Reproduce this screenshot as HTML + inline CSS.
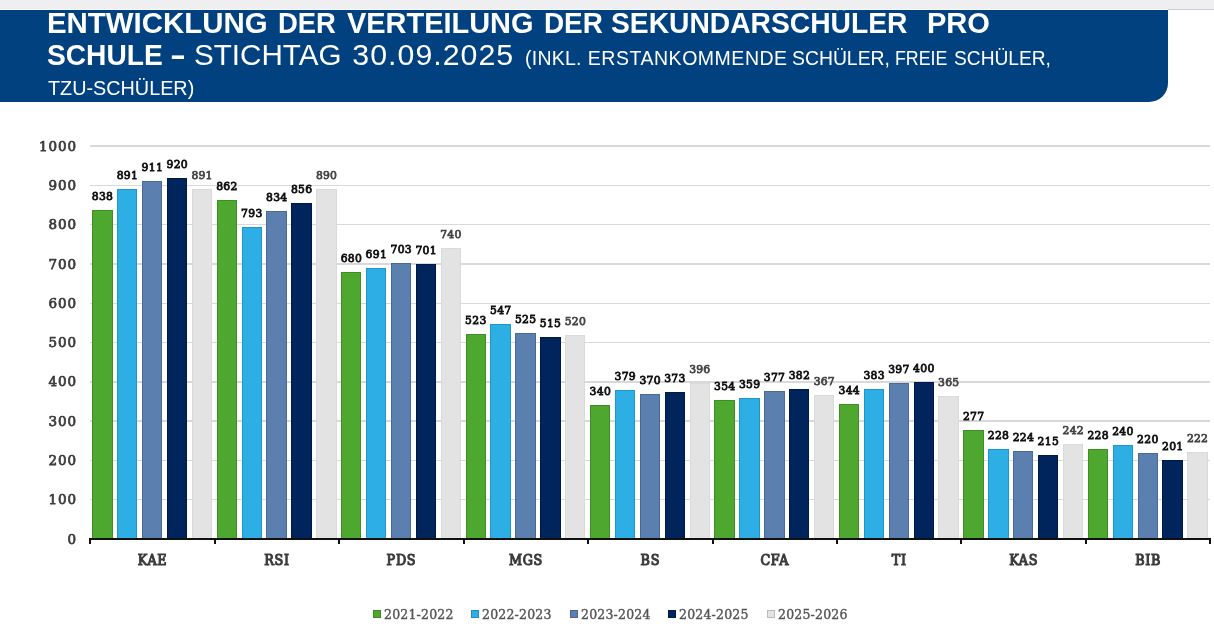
<!DOCTYPE html>
<html lang="de"><head><meta charset="utf-8"><title>Entwicklung der Verteilung der Sekundarschüler pro Schule</title>
<style>
html,body{margin:0;padding:0;background:#fff;}
body{width:1214px;height:640px;position:relative;overflow:hidden;font-family:"Liberation Sans",sans-serif;}
.top{position:absolute;left:0;top:0;width:1214px;height:9px;background:#efeff1;border-bottom:1px solid #d0d0d2;}
.banner{position:absolute;left:0;top:10px;width:1168px;height:91.5px;background:#01417f;border-bottom-right-radius:19px;color:#fff;overflow:hidden;}
.wl{position:absolute;left:0;top:9px;width:1168px;height:1px;background:#fbfbfc;}
.title{position:absolute;left:0;top:0;width:1168px;height:91px;color:#fff;}
.w{position:absolute;white-space:pre;display:block;line-height:32px;transform-origin:0 50%;}
.b1{top:-2.6px;font-size:30.3px;font-weight:bold;}
.b2{top:28.9px;font-size:30.3px;font-weight:bold;}
.n2{top:28.9px;font-size:30.3px;font-weight:normal;}
.s2{top:32px;font-size:19.5px;font-weight:normal;}
.s3{top:61.7px;font-size:19.8px;font-weight:normal;}
.slab{font-family:"DejaVu Serif Condensed","DejaVu Serif","Liberation Serif",serif;}
.g{position:absolute;left:90px;width:1120px;height:1.4px;background:#d9d9d9;}
.yl{position:absolute;left:21px;width:56px;text-align:right;font-family:"DejaVu Serif","Liberation Serif",serif;font-size:13.5px;font-weight:normal;color:#3c3c3c;-webkit-text-stroke:0.75px #3c3c3c;line-height:14px;letter-spacing:0.9px;}
.b{position:absolute;box-sizing:border-box;border:1px solid;border-bottom:0;}
.dl{position:absolute;width:40px;text-align:center;font-family:"DejaVu Serif","Liberation Serif",serif;font-size:10.8px;font-weight:normal;color:#111;-webkit-text-stroke:0.8px #111;line-height:12px;letter-spacing:0.3px;text-indent:0.3px;}
.dl.l{color:#444;-webkit-text-stroke:0.75px #444;letter-spacing:0.2px;text-indent:0.2px;}
.ax{position:absolute;left:89.4px;top:538.1px;width:1121.2px;height:1.7px;background:#111;}
.tk{position:absolute;top:538.1px;width:1.5px;height:6.2px;background:#111;}
.cl{position:absolute;width:100px;text-align:center;top:551.5px;font-size:14.2px;font-weight:normal;color:#404040;-webkit-text-stroke:1.05px #3a3a3a;line-height:16px;letter-spacing:0.7px;text-indent:0.7px;}
.lg{position:absolute;top:608px;letter-spacing:0.2px;font-family:"DejaVu Serif","Liberation Serif",serif;font-size:12.5px;color:#555;-webkit-text-stroke:0.4px #555;line-height:14px;white-space:nowrap;}
.lg i{position:absolute;left:-11.3px;top:2.3px;width:7.8px;height:7.6px;display:block;box-sizing:border-box;border:0.6px solid rgba(0,0,0,0.18);}
</style></head><body>
<div class="top"></div>
<div class="wl"></div>
<div class="banner">
<div class="title"><span class="w b1" style="left:46.67px;transform:scaleX(0.9710)">ENTWICKLUNG</span> <span class="w b1" style="left:278.09px;transform:scaleX(0.9048)">DER</span> <span class="w b1" style="left:347.18px;transform:scaleX(0.9550)">VERTEILUNG</span> <span class="w b1" style="left:543.97px;transform:scaleX(0.9198)">DER</span> <span class="w b1" style="left:611.18px;transform:scaleX(0.9319)">SEKUNDARSCHÜLER</span> <span class="w b1" style="left:926.80px;transform:scaleX(0.9587)">PRO</span> <span class="w b2" style="left:47.17px;transform:scaleX(0.9293)">SCHULE</span> <span class="w b2" style="left:170.41px;transform:scaleX(1.5802)">-</span> <span class="w n2" style="left:193.72px;transform:scaleX(0.9766)">STICHTAG</span> <span class="w n2" style="left:352.27px;letter-spacing:1.036px">30.09.2025</span> <span class="w s2" style="left:524.96px;letter-spacing:0.264px">(INKL.</span> <span class="w s2" style="left:587.85px;letter-spacing:0.521px">ERSTANKOMMENDE</span> <span class="w s2" style="left:791.66px;transform:scaleX(0.9931)">SCHÜLER,</span> <span class="w s2" style="left:894.55px;transform:scaleX(0.9122)">FREIE</span> <span class="w s2" style="left:954.22px;transform:scaleX(0.9831)">SCHÜLER,</span> <span class="w s3" style="left:47.72px;transform:scaleX(1.0007)">TZU-SCHÜLER)</span></div>
</div>
<div class="slab">

<div class="yl" style="top:531.5px">0</div>
<div class="g" style="top:499.01px"></div>
<div class="yl" style="top:492.2px">100</div>
<div class="g" style="top:459.72px"></div>
<div class="yl" style="top:452.9px">200</div>
<div class="g" style="top:420.43px"></div>
<div class="yl" style="top:413.6px">300</div>
<div class="g" style="top:381.14px"></div>
<div class="yl" style="top:374.3px">400</div>
<div class="g" style="top:341.85px"></div>
<div class="yl" style="top:335.0px">500</div>
<div class="g" style="top:302.56px"></div>
<div class="yl" style="top:295.8px">600</div>
<div class="g" style="top:263.27px"></div>
<div class="yl" style="top:256.5px">700</div>
<div class="g" style="top:223.98px"></div>
<div class="yl" style="top:217.2px">800</div>
<div class="g" style="top:184.69px"></div>
<div class="yl" style="top:177.9px">900</div>
<div class="g" style="top:145.40px"></div>
<div class="yl" style="top:138.6px">1000</div>
<div class="b" style="left:92.2px;top:209.7px;width:20.4px;height:329.3px;background:#4ea72e;border-color:#3f8f24"></div>
<div class="dl" style="left:82.4px;top:190.7px">838</div>
<div class="b" style="left:117.1px;top:188.9px;width:20.4px;height:350.1px;background:#2daee5;border-color:#1f97cc"></div>
<div class="dl" style="left:107.3px;top:169.9px">891</div>
<div class="b" style="left:142.0px;top:181.1px;width:20.4px;height:357.9px;background:#5b80b0;border-color:#48699a"></div>
<div class="dl" style="left:132.2px;top:162.1px">911</div>
<div class="b" style="left:166.9px;top:177.5px;width:20.4px;height:361.5px;background:#00245c;border-color:#001a47"></div>
<div class="dl" style="left:157.1px;top:158.5px">920</div>
<div class="b" style="left:191.8px;top:188.9px;width:20.4px;height:350.1px;background:#e3e3e3;border-color:#dadada"></div>
<div class="dl l" style="left:182.0px;top:169.9px">891</div>
<div class="b" style="left:216.6px;top:200.3px;width:20.4px;height:338.7px;background:#4ea72e;border-color:#3f8f24"></div>
<div class="dl" style="left:206.8px;top:181.3px">862</div>
<div class="b" style="left:241.5px;top:227.4px;width:20.4px;height:311.6px;background:#2daee5;border-color:#1f97cc"></div>
<div class="dl" style="left:231.7px;top:208.4px">793</div>
<div class="b" style="left:266.4px;top:211.3px;width:20.4px;height:327.7px;background:#5b80b0;border-color:#48699a"></div>
<div class="dl" style="left:256.6px;top:192.3px">834</div>
<div class="b" style="left:291.3px;top:202.7px;width:20.4px;height:336.3px;background:#00245c;border-color:#001a47"></div>
<div class="dl" style="left:281.5px;top:183.7px">856</div>
<div class="b" style="left:316.2px;top:189.3px;width:20.4px;height:349.7px;background:#e3e3e3;border-color:#dadada"></div>
<div class="dl l" style="left:306.4px;top:170.3px">890</div>
<div class="b" style="left:341.1px;top:271.8px;width:20.4px;height:267.2px;background:#4ea72e;border-color:#3f8f24"></div>
<div class="dl" style="left:331.3px;top:252.8px">680</div>
<div class="b" style="left:366.0px;top:267.5px;width:20.4px;height:271.5px;background:#2daee5;border-color:#1f97cc"></div>
<div class="dl" style="left:356.2px;top:248.5px">691</div>
<div class="b" style="left:390.9px;top:262.8px;width:20.4px;height:276.2px;background:#5b80b0;border-color:#48699a"></div>
<div class="dl" style="left:381.1px;top:243.8px">703</div>
<div class="b" style="left:415.8px;top:263.6px;width:20.4px;height:275.4px;background:#00245c;border-color:#001a47"></div>
<div class="dl" style="left:406.0px;top:244.6px">701</div>
<div class="b" style="left:440.6px;top:248.3px;width:20.4px;height:290.7px;background:#e3e3e3;border-color:#dadada"></div>
<div class="dl l" style="left:430.8px;top:229.3px">740</div>
<div class="b" style="left:465.5px;top:333.5px;width:20.4px;height:205.5px;background:#4ea72e;border-color:#3f8f24"></div>
<div class="dl" style="left:455.7px;top:314.5px">523</div>
<div class="b" style="left:490.4px;top:324.1px;width:20.4px;height:214.9px;background:#2daee5;border-color:#1f97cc"></div>
<div class="dl" style="left:480.6px;top:305.1px">547</div>
<div class="b" style="left:515.3px;top:332.7px;width:20.4px;height:206.3px;background:#5b80b0;border-color:#48699a"></div>
<div class="dl" style="left:505.5px;top:313.7px">525</div>
<div class="b" style="left:540.2px;top:336.7px;width:20.4px;height:202.3px;background:#00245c;border-color:#001a47"></div>
<div class="dl" style="left:530.4px;top:317.7px">515</div>
<div class="b" style="left:565.1px;top:334.7px;width:20.4px;height:204.3px;background:#e3e3e3;border-color:#dadada"></div>
<div class="dl l" style="left:555.3px;top:315.7px">520</div>
<div class="b" style="left:590.0px;top:405.4px;width:20.4px;height:133.6px;background:#4ea72e;border-color:#3f8f24"></div>
<div class="dl" style="left:580.2px;top:386.4px">340</div>
<div class="b" style="left:614.9px;top:390.1px;width:20.4px;height:148.9px;background:#2daee5;border-color:#1f97cc"></div>
<div class="dl" style="left:605.1px;top:371.1px">379</div>
<div class="b" style="left:639.8px;top:393.6px;width:20.4px;height:145.4px;background:#5b80b0;border-color:#48699a"></div>
<div class="dl" style="left:630.0px;top:374.6px">370</div>
<div class="b" style="left:664.6px;top:392.4px;width:20.4px;height:146.6px;background:#00245c;border-color:#001a47"></div>
<div class="dl" style="left:654.8px;top:373.4px">373</div>
<div class="b" style="left:689.5px;top:383.4px;width:20.4px;height:155.6px;background:#e3e3e3;border-color:#dadada"></div>
<div class="dl l" style="left:679.7px;top:364.4px">396</div>
<div class="b" style="left:714.4px;top:399.9px;width:20.4px;height:139.1px;background:#4ea72e;border-color:#3f8f24"></div>
<div class="dl" style="left:704.6px;top:380.9px">354</div>
<div class="b" style="left:739.3px;top:397.9px;width:20.4px;height:141.1px;background:#2daee5;border-color:#1f97cc"></div>
<div class="dl" style="left:729.5px;top:378.9px">359</div>
<div class="b" style="left:764.2px;top:390.9px;width:20.4px;height:148.1px;background:#5b80b0;border-color:#48699a"></div>
<div class="dl" style="left:754.4px;top:371.9px">377</div>
<div class="b" style="left:789.1px;top:388.9px;width:20.4px;height:150.1px;background:#00245c;border-color:#001a47"></div>
<div class="dl" style="left:779.3px;top:369.9px">382</div>
<div class="b" style="left:814.0px;top:394.8px;width:20.4px;height:144.2px;background:#e3e3e3;border-color:#dadada"></div>
<div class="dl l" style="left:804.2px;top:375.8px">367</div>
<div class="b" style="left:838.9px;top:403.8px;width:20.4px;height:135.2px;background:#4ea72e;border-color:#3f8f24"></div>
<div class="dl" style="left:829.1px;top:384.8px">344</div>
<div class="b" style="left:863.8px;top:388.5px;width:20.4px;height:150.5px;background:#2daee5;border-color:#1f97cc"></div>
<div class="dl" style="left:854.0px;top:369.5px">383</div>
<div class="b" style="left:888.6px;top:383.0px;width:20.4px;height:156.0px;background:#5b80b0;border-color:#48699a"></div>
<div class="dl" style="left:878.8px;top:364.0px">397</div>
<div class="b" style="left:913.5px;top:381.8px;width:20.4px;height:157.2px;background:#00245c;border-color:#001a47"></div>
<div class="dl" style="left:903.7px;top:362.8px">400</div>
<div class="b" style="left:938.4px;top:395.6px;width:20.4px;height:143.4px;background:#e3e3e3;border-color:#dadada"></div>
<div class="dl l" style="left:928.6px;top:376.6px">365</div>
<div class="b" style="left:963.3px;top:430.2px;width:20.4px;height:108.8px;background:#4ea72e;border-color:#3f8f24"></div>
<div class="dl" style="left:953.5px;top:411.2px">277</div>
<div class="b" style="left:988.2px;top:449.4px;width:20.4px;height:89.6px;background:#2daee5;border-color:#1f97cc"></div>
<div class="dl" style="left:978.4px;top:430.4px">228</div>
<div class="b" style="left:1013.1px;top:451.0px;width:20.4px;height:88.0px;background:#5b80b0;border-color:#48699a"></div>
<div class="dl" style="left:1003.3px;top:432.0px">224</div>
<div class="b" style="left:1038.0px;top:454.5px;width:20.4px;height:84.5px;background:#00245c;border-color:#001a47"></div>
<div class="dl" style="left:1028.2px;top:435.5px">215</div>
<div class="b" style="left:1062.9px;top:443.9px;width:20.4px;height:95.1px;background:#e3e3e3;border-color:#dadada"></div>
<div class="dl l" style="left:1053.1px;top:424.9px">242</div>
<div class="b" style="left:1087.8px;top:449.4px;width:20.4px;height:89.6px;background:#4ea72e;border-color:#3f8f24"></div>
<div class="dl" style="left:1078.0px;top:430.4px">228</div>
<div class="b" style="left:1112.6px;top:444.7px;width:20.4px;height:94.3px;background:#2daee5;border-color:#1f97cc"></div>
<div class="dl" style="left:1102.8px;top:425.7px">240</div>
<div class="b" style="left:1137.5px;top:452.6px;width:20.4px;height:86.4px;background:#5b80b0;border-color:#48699a"></div>
<div class="dl" style="left:1127.7px;top:433.6px">220</div>
<div class="b" style="left:1162.4px;top:460.0px;width:20.4px;height:79.0px;background:#00245c;border-color:#001a47"></div>
<div class="dl" style="left:1152.6px;top:441.0px">201</div>
<div class="b" style="left:1187.3px;top:451.8px;width:20.4px;height:87.2px;background:#e3e3e3;border-color:#dadada"></div>
<div class="dl l" style="left:1177.5px;top:432.8px">222</div>
<div class="ax"></div>
<div class="tk" style="left:89px"></div>
<div class="tk" style="left:214px"></div>
<div class="tk" style="left:338px"></div>
<div class="tk" style="left:463px"></div>
<div class="tk" style="left:587px"></div>
<div class="tk" style="left:712px"></div>
<div class="tk" style="left:836px"></div>
<div class="tk" style="left:960px"></div>
<div class="tk" style="left:1085px"></div>
<div class="tk" style="left:1209px"></div>
<div class="cl" style="left:102.2px">KAE</div>
<div class="cl" style="left:226.7px">RSI</div>
<div class="cl" style="left:351.1px">PDS</div>
<div class="cl" style="left:475.6px">MGS</div>
<div class="cl" style="left:600.0px">BS</div>
<div class="cl" style="left:724.4px">CFA</div>
<div class="cl" style="left:848.9px">TI</div>
<div class="cl" style="left:973.3px">KAS</div>
<div class="cl" style="left:1097.8px">BIB</div>
<div class="lg" style="left:384px"><i style="background:#4ea72e"></i>2021-2022</div>
<div class="lg" style="left:482px"><i style="background:#2daee5"></i>2022-2023</div>
<div class="lg" style="left:581px"><i style="background:#5b80b0"></i>2023-2024</div>
<div class="lg" style="left:679px"><i style="background:#00245c"></i>2024-2025</div>
<div class="lg" style="left:778px"><i style="background:#e3e3e3"></i>2025-2026</div>
</div>
</body></html>
